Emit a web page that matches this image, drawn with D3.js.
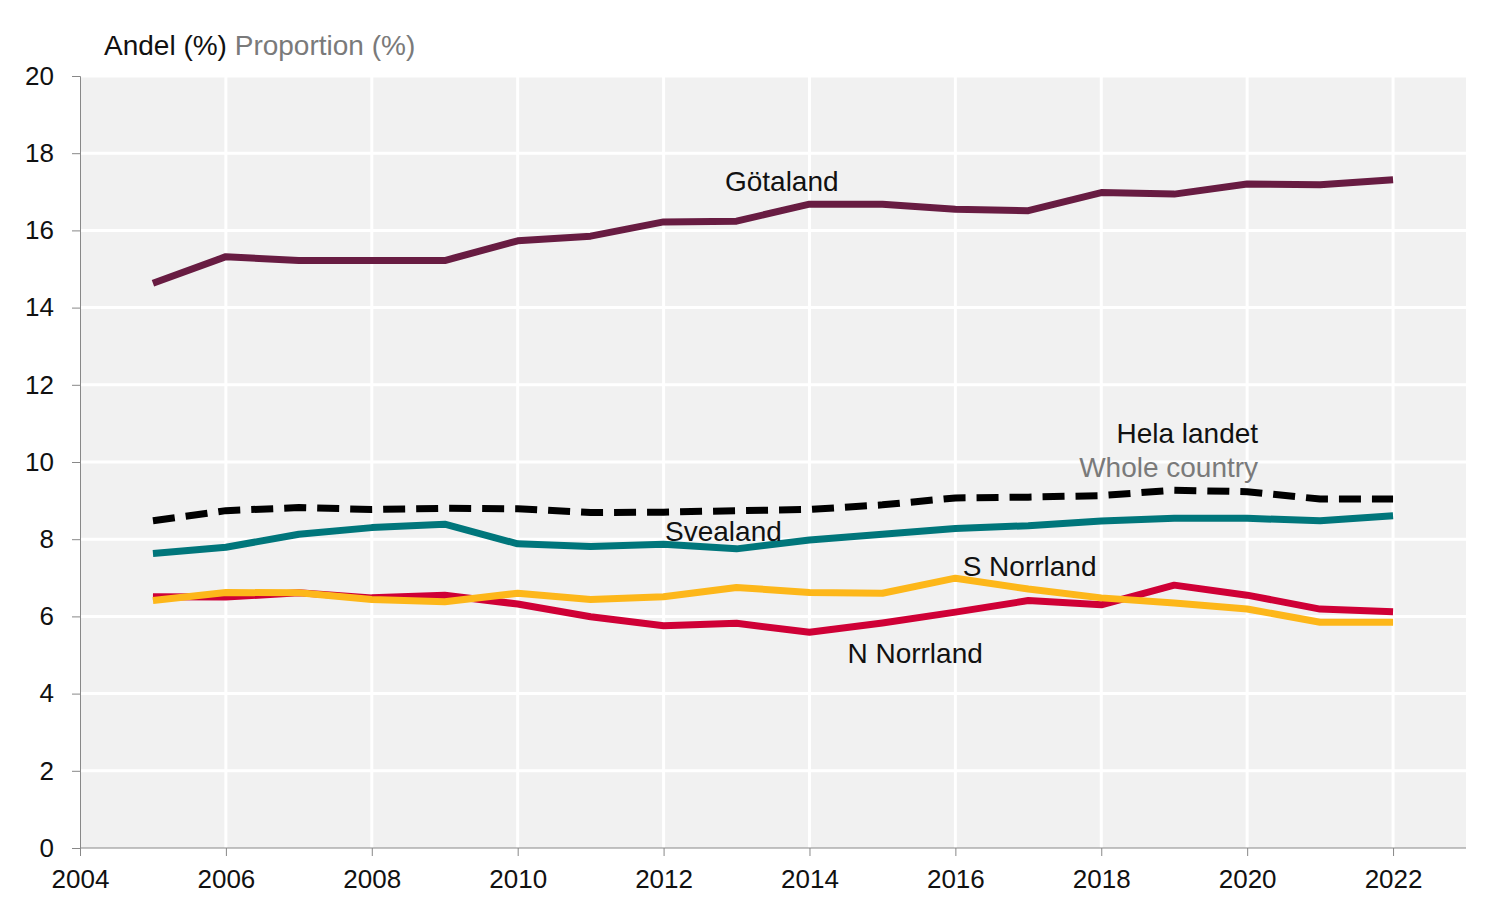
<!DOCTYPE html>
<html lang="sv">
<head>
  <meta charset="UTF-8">
  <title>Andel (%) per landsdel</title>
  <script src="https://d3js.org/d3.v7.min.js"></script>
  <style>
    body { margin: 0; background: #fff; font-family: "Liberation Sans", Arial, sans-serif; }
    svg { display: block; }
    .tick text { font-size: 26px; fill: #111; }
    .axis path, .axis line { stroke: #888; }
    .lbl { font-size: 28px; fill: #111; }
    .gray { fill: #7a7a7a; }
  </style>
</head>
<body>
  <script>
    const years = d3.range(2005, 2023);
    const gotaland    = [14.63, 15.32, 15.22, 15.22, 15.22, 15.73, 15.85, 16.22, 16.24, 16.68, 16.68, 16.55, 16.51, 16.98, 16.94, 17.2, 17.18, 17.31];
    const helaLandet  = [8.48, 8.74, 8.82, 8.77, 8.8, 8.79, 8.69, 8.7, 8.74, 8.77, 8.89, 9.07, 9.09, 9.13, 9.27, 9.23, 9.04, 9.04];
    const svealand    = [7.63, 7.79, 8.13, 8.3, 8.39, 7.88, 7.81, 7.87, 7.75, 7.98, 8.13, 8.28, 8.35, 8.47, 8.54, 8.54, 8.48, 8.61];
    const sNorrland   = [6.41, 6.62, 6.61, 6.44, 6.38, 6.6, 6.44, 6.51, 6.75, 6.62, 6.6, 6.99, 6.71, 6.48, 6.35, 6.19, 5.85, 5.85];
    const nNorrland   = [6.51, 6.5, 6.61, 6.48, 6.55, 6.32, 5.99, 5.76, 5.82, 5.59, 5.83, 6.11, 6.41, 6.3, 6.81, 6.55, 6.19, 6.12];
    const yTicks = d3.range(0, 21, 2);
    const xTicks = d3.range(2004, 2023, 2);

    const series = [
      { name: "N Norrland", values: nNorrland, color: "#cf0036" },
      { name: "S Norrland", values: sNorrland, color: "#fdb71a" },
      { name: "Svealand", values: svealand, color: "#00767b" },
      { name: "Hela landet", values: helaLandet, color: "#000", dash: "22,11" },
      { name: "Götaland", values: gotaland, color: "#681c42" }
    ];

    const width = 1500, height = 920;
    const margin = { top: 76, right: 34, bottom: 72, left: 80 };

    const svg = d3.select("body").append("svg")
      .attr("width", width)
      .attr("height", height);

    const x = d3.scaleLinear().domain([2004, 2023]).range([margin.left, width - margin.right]);
    const y = d3.scaleLinear().domain([0, 20]).range([height - margin.bottom, margin.top]);

    // plot background
    svg.append("rect")
      .attr("x", x(2004)).attr("y", y(20))
      .attr("width", x(2023) - x(2004)).attr("height", y(0) - y(20))
      .attr("fill", "#f1f1f1");

    // grid
    svg.append("g").selectAll("line")
      .data(yTicks.filter(d => d > 0))
      .join("line")
      .attr("x1", x(2004)).attr("x2", x(2023))
      .attr("y1", d => y(d)).attr("y2", d => y(d))
      .attr("stroke", "#fff").attr("stroke-width", 3);

    svg.append("g").selectAll("line")
      .data(xTicks.filter(d => d > 2004))
      .join("line")
      .attr("x1", d => x(d)).attr("x2", d => x(d))
      .attr("y1", y(0)).attr("y2", y(20))
      .attr("stroke", "#fff").attr("stroke-width", 3);

    // axes
    svg.append("g")
      .attr("class", "axis")
      .attr("transform", `translate(0,${y(0)})`)
      .call(d3.axisBottom(x).tickValues(xTicks).tickFormat(d3.format("d")).tickSizeOuter(0).tickSize(8).tickPadding(14))
      .call(g => g.select(".domain").attr("d", `M${x(2004)},0H${x(2023)}`));

    svg.append("g")
      .attr("class", "axis")
      .attr("transform", `translate(${x(2004)},0)`)
      .call(d3.axisLeft(y).tickValues(yTicks).tickSizeOuter(0).tickSize(8).tickPadding(18));

    d3.selectAll(".tick text").attr("font-family", null);

    // lines
    const line = d3.line()
      .x((d, i) => x(years[i]))
      .y(d => y(d));

    svg.append("g").selectAll("path")
      .data(series)
      .join("path")
      .attr("d", d => line(d.values))
      .attr("fill", "none")
      .attr("stroke", d => d.color)
      .attr("stroke-width", 7)
      .attr("stroke-linejoin", "round")
      .attr("stroke-dasharray", d => d.dash || null);

    // labels
    const title = svg.append("text").attr("class", "lbl").attr("x", 104).attr("y", 55);
    title.append("tspan").text("Andel (%)");
    title.append("tspan").attr("class", "gray").text(" Proportion (%)");

    svg.append("text").attr("class", "lbl").attr("text-anchor", "middle")
      .attr("x", x(2013.62)).attr("y", y(17.02)).text("Götaland");
    svg.append("text").attr("class", "lbl").attr("text-anchor", "end")
      .attr("x", x(2020.15)).attr("y", y(10.5)).text("Hela landet");
    svg.append("text").attr("class", "lbl gray").attr("text-anchor", "end")
      .attr("x", x(2020.15)).attr("y", y(9.6)).text("Whole country");
    svg.append("text").attr("class", "lbl")
      .attr("x", x(2012.02)).attr("y", y(7.96)).text("Svealand");
    svg.append("text").attr("class", "lbl")
      .attr("x", x(2016.1)).attr("y", y(7.04)).text("S Norrland");
    svg.append("text").attr("class", "lbl")
      .attr("x", x(2014.52)).attr("y", y(4.8)).text("N Norrland");
  </script>
</body>
</html>
